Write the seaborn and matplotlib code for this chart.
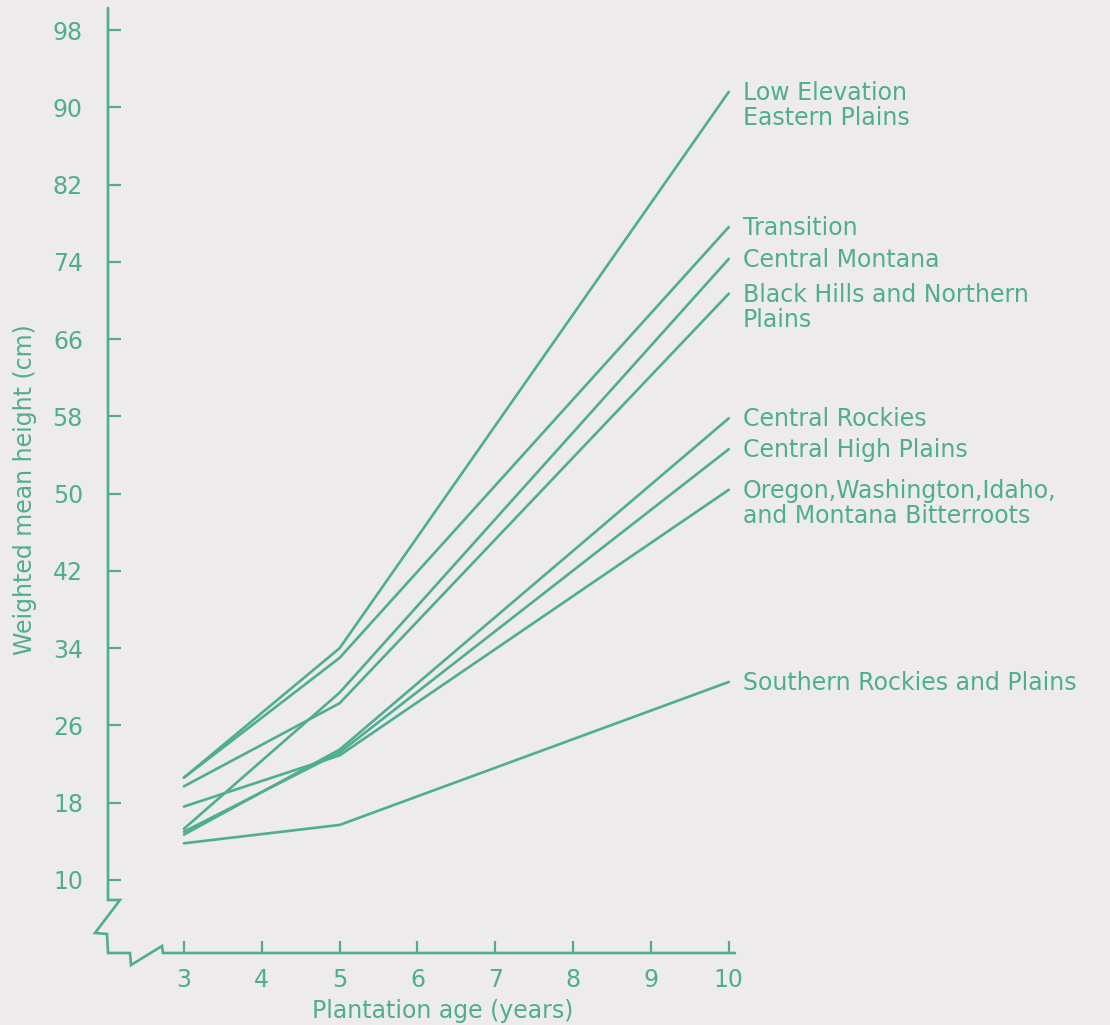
import numpy as np
import pandas as pd
import matplotlib
matplotlib.use("Agg")
import matplotlib.pyplot as plt
import seaborn as sns

# plantation ages measured
ages = [3, 5, 10]

# weighted mean height (cm) per seed zone
low_elevation = [20.6, 34.0, 91.6]
transition = [20.6, 33.0, 77.6]
central_montana = [15.3, 29.4, 74.3]
black_hills = [19.7, 28.3, 70.7]
central_rockies = [14.7, 23.5, 57.8]
central_high_plains = [15.0, 23.2, 54.6]
oregon_wash = [17.6, 22.9, 50.4]
southern_rockies = [13.8, 15.7, 30.5]

labels = [
    "Low Elevation\nEastern Plains",
    "Transition",
    "Central Montana",
    "Black Hills and Northern\nPlains",
    "Central Rockies",
    "Central High Plains",
    "Oregon,Washington,Idaho,\nand Montana Bitterroots",
    "Southern Rockies and Plains",
]
series = [low_elevation, transition, central_montana, black_hills,
          central_rockies, central_high_plains, oregon_wash, southern_rockies]

y_ticks = list(range(10, 99, 8))
x_ticks = list(range(3, 11))

INK = "#4FAD92"
BG = "#EDEBEC"


def main():
    rows = []
    for lab, vals in zip(labels, series):
        for a, v in zip(ages, vals):
            rows.append({"age": a, "height": v, "zone": lab})
    df = pd.DataFrame(rows)

    sns.set_style("white")
    plt.rcParams["font.family"] = ["DejaVu Sans"]

    fig = plt.figure(figsize=(11.1, 10.25), dpi=100, facecolor=BG)
    ax = fig.add_axes([108 / 1110, 1 - 953 / 1025, 627 / 1110, 945 / 1025])
    ax.set_facecolor(BG)

    sns.lineplot(data=df, x="age", y="height", hue="zone",
                 palette=[INK] * len(labels), linewidth=1.9,
                 legend=False, ax=ax, sort=False)

    ax.set_xlim(2.024, 10.08)
    ax.set_ylim(2.44, 100.28)
    ax.set_xticks(x_ticks)
    ax.set_yticks(y_ticks)
    ax.tick_params(axis="both", direction="in", length=9, width=1.6,
                   color=INK, labelcolor=INK, labelsize=17,
                   bottom=True, left=True)
    ax.tick_params(axis="y", pad=18)
    ax.tick_params(axis="x", pad=11)

    for s in ax.spines.values():
        s.set_visible(False)

    # broken axes drawn by hand (pixel offsets from the axes corner)
    W, H = 627.0, 945.0
    px = np.array([0, 0, 12, -13, -1, 0, 22, 23, 54, 55, 627])
    py = np.array([945, 53, 53, 20, 19, 0, 0, -12, 7, 0, 0])
    ax.plot(px / W, py / H, color=INK, lw=1.9, transform=ax.transAxes,
            clip_on=False, solid_joinstyle="miter")

    ax.set_xlabel("Plantation age (years)", color=INK, fontsize=17)
    ax.xaxis.set_label_coords(0.534, -0.049)
    ax.set_ylabel("Weighted mean height (cm)", color=INK, fontsize=17)
    ax.yaxis.set_label_coords(-0.113, 0.49)

    # zone names at the line ends
    for lab, vals in zip(labels, series):
        ax.annotate(lab, xy=(ages[-1], vals[-1]), xytext=(10, 8),
                    textcoords="offset points", va="top", ha="left",
                    color=INK, fontsize=17, linespacing=1.05,
                    annotation_clip=False)

    fig.savefig("out.png", dpi=100, facecolor=BG)


if __name__ == "__main__":
    main()
